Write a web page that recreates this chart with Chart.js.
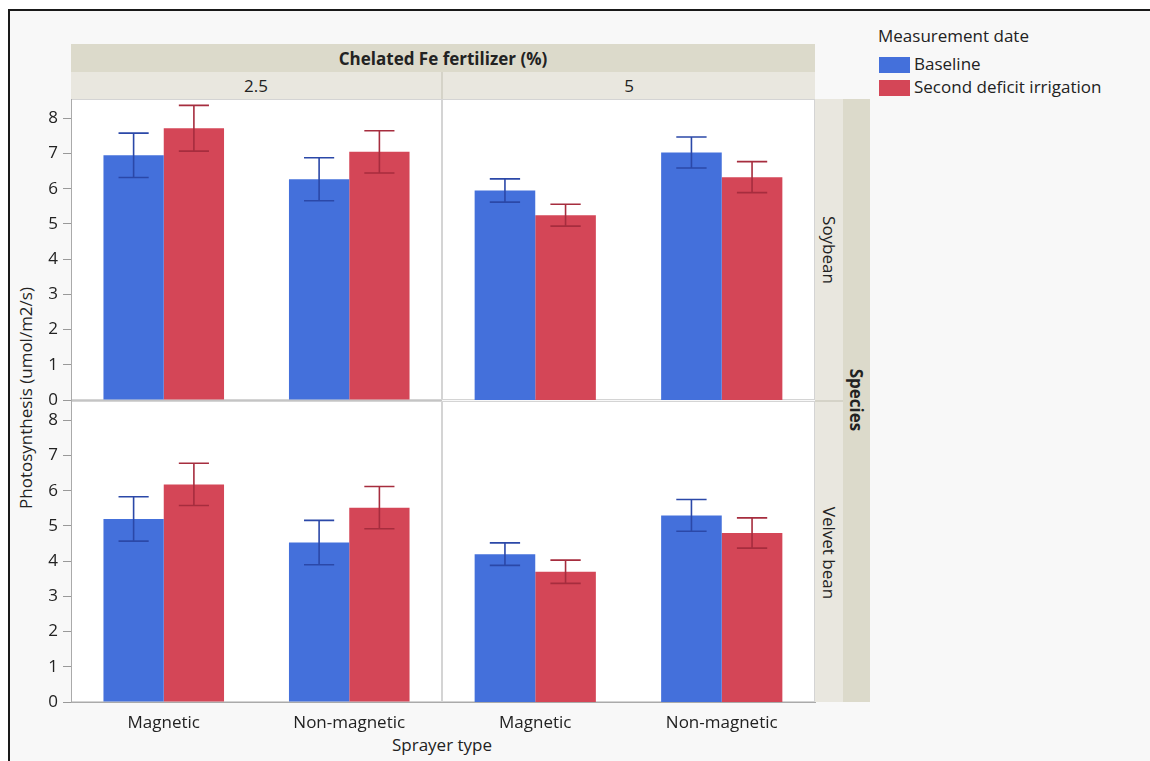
<!DOCTYPE html>
<html>
<head>
<meta charset="utf-8">
<script src="https://cdn.jsdelivr.net/npm/chart.js@4.4.1/dist/chart.umd.min.js"></script>
<style>
  body { margin: 0; width: 1150px; height: 761px; background: #fff; position: relative; overflow: hidden;
         font-family: "Open Sans", "Noto Sans", sans-serif; color: #222; }
  .frame { position: absolute; left: 8px; top: 9px; width: 1160px; height: 800px; border: 2px solid #1a1a1a;
           background: #f8f8f8; box-sizing: border-box; }
  .abs { position: absolute; }
  canvas { position: absolute; }
  .strip1 { background: #dcdacb; }
  .strip2 { background: #e9e7df; }
  .center { display: flex; align-items: center; justify-content: center; white-space: nowrap; }
  .rot { position: absolute; white-space: nowrap; transform: translate(-50%, -50%) rotate(90deg); }
</style>
</head>
<body>
<div class="frame"></div>

<!-- column strips -->
<div class="abs strip1 center" style="left:71px; top:44px; width:744px; height:28px; font-weight:bold; font-size:17px;">Chelated Fe fertilizer (%)</div>
<div class="abs strip2 center" style="left:71px; top:72px; width:370px; height:27px; font-size:17px;" id="fert0"></div>
<div class="abs" style="left:441px; top:72px; width:2px; height:27px; background:#d5d3c8;"></div>
<div class="abs strip2 center" style="left:443px; top:72px; width:372px; height:27px; font-size:17px;" id="fert1"></div>

<!-- row strips -->
<div class="abs strip2" style="left:815px; top:99px; width:28px; height:603px;"></div>
<div class="abs" style="left:815px; top:400px; width:28px; height:2px; background:#d5d3c8;"></div>
<div class="abs strip1" style="left:843px; top:99px; width:27px; height:603px;"></div>
<div class="rot" style="left:829px; top:250px; font-size:17px;" id="sp0"></div>
<div class="rot" style="left:829px; top:553px; font-size:17px;" id="sp1"></div>
<div class="rot" style="left:856px; top:400px; font-size:17px; font-weight:bold;">Species</div>

<!-- axis titles -->
<div class="abs" style="left:25px; top:398px; white-space:nowrap; font-size:17px; transform:translate(-50%,-50%) rotate(-90deg);">Photosynthesis (umol/m2/s)</div>
<div class="abs" style="left:442px; top:744px; white-space:nowrap; font-size:17px; transform:translate(-50%,-50%);">Sprayer type</div>

<!-- legend -->
<div class="abs" style="left:878px; top:24px; font-size:17px; white-space:nowrap;">Measurement date</div>
<div class="abs" style="left:879px; top:57px; width:31px; height:16px; background:#4470db;"></div>
<div class="abs" style="left:914px; top:52px; font-size:17px; white-space:nowrap;" id="lg0"></div>
<div class="abs" style="left:879px; top:80px; width:31px; height:16px; background:#d44657;"></div>
<div class="abs" style="left:914px; top:75px; font-size:17px; white-space:nowrap;" id="lg1"></div>

<canvas id="p00" width="452" height="320" style="left:0px; top:90px;"></canvas>
<canvas id="p01" width="393" height="320" style="left:432px; top:90px;"></canvas>
<canvas id="p10" width="452" height="340" style="left:0px; top:392px;"></canvas>
<canvas id="p11" width="393" height="340" style="left:432px; top:392px;"></canvas>

<script>
const sprayerTypes = ['Magnetic', 'Non-magnetic'];
const fertLevels = ['2.5', '5'];
const speciesNames = ['Soybean', 'Velvet bean'];
const seriesNames = ['Baseline', 'Second deficit irrigation'];
const yTicks = [0, 1, 2, 3, 4, 5, 6, 7, 8];
const yMax = 8.55;

// Soybean, 2.5 %
const soy25Base = [6.95, 6.27];
const soy25BaseErr = [0.63, 0.61];
const soy25Second = [7.72, 7.05];
const soy25SecondErr = [0.65, 0.60];
// Soybean, 5 %
const soy5Base = [5.95, 7.03];
const soy5BaseErr = [0.33, 0.44];
const soy5Second = [5.25, 6.33];
const soy5SecondErr = [0.31, 0.44];
// Velvet bean, 2.5 %
const vel25Base = [5.20, 4.53];
const vel25BaseErr = [0.63, 0.63];
const vel25Second = [6.18, 5.52];
const vel25SecondErr = [0.60, 0.60];
// Velvet bean, 5 %
const vel5Base = [4.20, 5.30];
const vel5BaseErr = [0.32, 0.45];
const vel5Second = [3.70, 4.80];
const vel5SecondErr = [0.33, 0.43];

const fontFam = '"Open Sans", "Noto Sans", sans-serif';
const blue = '#4470db', red = '#d44657';
const blueErr = '#2b48a8', redErr = '#a62d3e';

document.getElementById('fert0').textContent = fertLevels[0];
document.getElementById('fert1').textContent = fertLevels[1];
document.getElementById('sp0').textContent = speciesNames[0];
document.getElementById('sp1').textContent = speciesNames[1];
document.getElementById('lg0').textContent = seriesNames[0];
document.getElementById('lg1').textContent = seriesNames[1];

// white panel with thin grey frame
const panelBg = {
  id: 'panelBg',
  beforeDraw(chart) {
    const { ctx, chartArea: a } = chart;
    ctx.save();
    ctx.fillStyle = '#fff';
    ctx.fillRect(a.left, a.top, a.right - a.left, a.bottom - a.top);
    ctx.strokeStyle = '#d4d4d4';
    ctx.lineWidth = 1;
    ctx.strokeRect(a.left + 0.5, a.top + 0.5, a.right - a.left - 1, a.bottom - a.top - 1);
    ctx.restore();
  }
};

const errorBars = {
  id: 'errorBars',
  afterDatasetsDraw(chart) {
    const ctx = chart.ctx;
    const y = chart.scales.y;
    chart.data.datasets.forEach((ds, i) => {
      chart.getDatasetMeta(i).data.forEach((bar, j) => {
        const top = y.getPixelForValue(ds.data[j] + ds.errors[j]);
        const bot = y.getPixelForValue(ds.data[j] - ds.errors[j]);
        const half = bar.width / 4;
        ctx.save();
        ctx.strokeStyle = ds.errorColor;
        ctx.lineWidth = 1.6;
        ctx.beginPath();
        ctx.moveTo(bar.x, top); ctx.lineTo(bar.x, bot);
        ctx.moveTo(bar.x - half, top); ctx.lineTo(bar.x + half, top);
        ctx.moveTo(bar.x - half, bot); ctx.lineTo(bar.x + half, bot);
        ctx.stroke();
        ctx.restore();
      });
    });
  }
};

function makePanel(id, base, baseErr, second, secondErr, showY, showX) {
  new Chart(document.getElementById(id), {
    type: 'bar',
    data: {
      labels: sprayerTypes,
      datasets: [
        { label: seriesNames[0], data: base, errors: baseErr, errorColor: blueErr, backgroundColor: blue },
        { label: seriesNames[1], data: second, errors: secondErr, errorColor: redErr, backgroundColor: red }
      ]
    },
    options: {
      responsive: false,
      animation: false,
      layout: { padding: { top: 9, right: 10, bottom: showX ? 0 : 10, left: showY ? 0 : 10 } },
      datasets: { bar: { categoryPercentage: 0.65, barPercentage: 1.0 } },
      plugins: { legend: { display: false }, tooltip: { enabled: false } },
      scales: {
        x: {
          display: showX,
          afterFit: s => { s.height = showX ? 30 : 0; s.paddingLeft = 0; s.paddingRight = 0; },
          grid: { display: false },
          border: { display: true, color: '#aaa' },
          ticks: { color: '#222', font: { size: 17, family: fontFam }, padding: 3 }
        },
        y: {
          display: showY,
          min: 0,
          max: yMax,
          afterBuildTicks: s => { s.ticks = yTicks.map(v => ({ value: v })); },
          afterFit: s => { s.width = showY ? 71 : 0; s.paddingTop = 0; s.paddingBottom = 0; },
          grid: {
            color: c => (c.tick && c.tick.value === 0) ? '#c4c4c4' : 'rgba(0,0,0,0)',
            tickColor: '#999',
            tickLength: 8
          },
          border: { display: true, color: '#aaa' },
          ticks: { color: '#222', font: { size: 17, family: fontFam }, padding: 5 }
        }
      }
    },
    plugins: [panelBg, errorBars]
  });
}

makePanel('p00', soy25Base, soy25BaseErr, soy25Second, soy25SecondErr, true, false);
makePanel('p01', soy5Base, soy5BaseErr, soy5Second, soy5SecondErr, false, false);
makePanel('p10', vel25Base, vel25BaseErr, vel25Second, vel25SecondErr, true, true);
makePanel('p11', vel5Base, vel5BaseErr, vel5Second, vel5SecondErr, false, true);
</script>
</body>
</html>
